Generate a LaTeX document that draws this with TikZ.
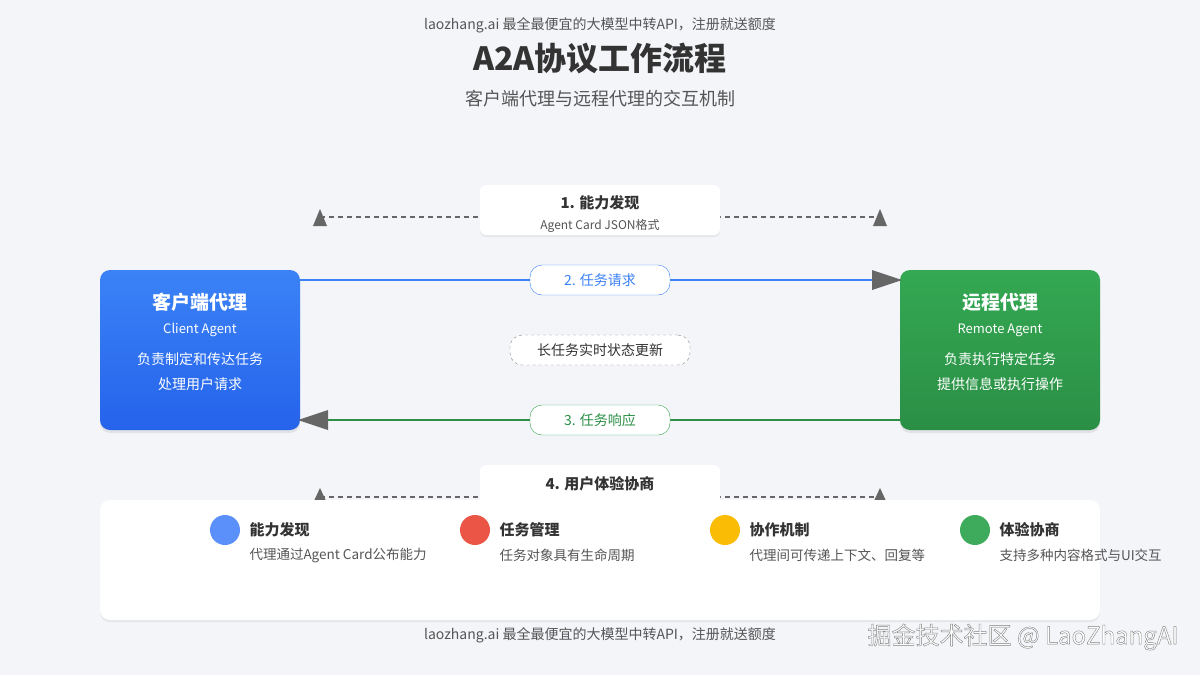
\documentclass[tikz,border=0pt]{standalone}
\usepackage{fontspec}
\setmainfont{Noto Sans CJK SC}
\usetikzlibrary{arrows.meta,shadows}
\definecolor{bg}{HTML}{F3F5F9}
\definecolor{txt}{HTML}{333333}
\definecolor{gtxt}{HTML}{555555}
\definecolor{cblue}{HTML}{3B82F6}
\definecolor{cblueD}{HTML}{2563EB}
\definecolor{cgreen}{HTML}{34A853}
\definecolor{cgreenD}{HTML}{2A8F45}
\definecolor{arr}{HTML}{666666}
\tikzset{
  fs/.style={font=\fontsize{#1}{#1}\selectfont},
  fsb/.style={font=\bfseries\fontsize{#1}{#1}\selectfont},
  card/.style={draw=none,fill=white,rounded corners=6pt,drop shadow={opacity=0.12,shadow xshift=0pt,shadow yshift=-2pt}},
  agent/.style={rounded corners=10pt,drop shadow={opacity=0.15,shadow xshift=0pt,shadow yshift=-3pt}},
  pill/.style={fill=white,rounded corners=12pt,minimum width=140pt,minimum height=30pt,fs=14},
  dot/.style={circle,minimum size=30pt,inner sep=0pt},
}
\begin{document}
\begin{tikzpicture}[x=1pt,y=-1pt]
\fill[bg] (0,0) rectangle (1200,675);
\useasboundingbox (0,0) rectangle (1200,675);
\node[fs=14,text=gtxt] (top) at (600,25) {laozhang.ai 最全最便宜的大模型中转API，注册就送额度};
\node[fsb=32,text=txt] (title) at (600,59) {A2A协议工作流程};
\node[fs=18,text=gtxt] (sub) at (600,99) {客户端代理与远程代理的交互机制};

% agents
\node[agent,top color=cblue,bottom color=cblueD,minimum width=200pt,minimum height=160pt] (client) at (200,350) {};
\node[agent,top color=cgreen,bottom color=cgreenD,minimum width=200pt,minimum height=160pt] (remote) at (1000,350) {};
\node[white,fsb=19] at (200,302) {客户端代理};
\node[white,fs=13] at (200,330) {Client Agent};
\node[white,fs=14] at (200,359) {负责制定和传达任务};
\node[white,fs=14] at (200,384) {处理用户请求};
\node[white,fsb=19] at (1000,302) {远程代理};
\node[white,fs=13] at (1000,330) {Remote Agent};
\node[white,fs=14] at (1000,359) {负责执行特定任务};
\node[white,fs=14] at (1000,384) {提供信息或执行操作};

% dashed top line
\draw[arr,line width=1.2pt,dash pattern=on 5pt off 4pt] (320,217) -- (880,217);
\fill[arr] (313,226) -- (327,226) -- (320,209) -- cycle;
\fill[arr] (873,226) -- (887,226) -- (880,209) -- cycle;
\node[card,minimum width=240pt,minimum height=50pt] (disc) at (600,210) {};
\node[fsb=15,text=txt] at (600,203) {1. 能力发现};
\node[fs=12,text=gtxt] at (600,226) {Agent Card JSON格式};

% request
\draw[cblue,line width=2.5pt] (client.east|-0,280) -- (880,280);
\fill[arr] (872,270) -- (902,280) -- (872,290) -- cycle;
\node[pill,draw=cblue,text=cblue] (req) at (600,280) {2. 任务请求};

\node[pill,draw=gray,dashed,minimum width=180pt,text=txt] (long) at (600,350) {长任务实时状态更新};

% response
\draw[cgreen!85!black,line width=2.5pt] (remote.west|-0,420) -- (320,420);
\fill[arr] (328,410) -- (298,420) -- (328,430) -- cycle;
\node[pill,draw=cgreen,text=cgreen!85!black] (resp) at (600,420) {3. 任务响应};

% negotiation
\draw[arr,line width=1.2pt,dash pattern=on 5pt off 4pt] (320,497) -- (880,497);
\fill[arr] (313,503) -- (327,503) -- (320,488) -- cycle;
\fill[arr] (873,503) -- (887,503) -- (880,488) -- cycle;
\node[card,minimum width=240pt,minimum height=50pt] (neg) at (600,490) {};
\node[fsb=15,text=txt] at (600,484) {4. 用户体验协商};

% bottom panel
\node[card,rounded corners=10pt,minimum width=1000pt,minimum height=120pt] (panel) at (600,560) {};
\foreach \x/\c/\t/\d in {225/5B8FF9/能力发现/代理通过Agent Card公布能力,475/EA5545/任务管理/任务对象具有生命周期,725/FBBC05/协作机制/代理间可传递上下文、回复等,975/3DAA5C/体验协商/支持多种内容格式与UI交互}{
  \definecolor{tmp}{HTML}{\c}
  \node[dot,fill=tmp] at (\x,530) {};
  \node[anchor=west,fsb=15,text=txt] at (\x+21,530) {\t};
  \node[anchor=west,fs=13.5,text=gtxt] at (\x+21,555) {\d};
}
\node[fs=14,text=gtxt] (bot) at (600,635) {laozhang.ai 最全最便宜的大模型中转API，注册就送额度};
\node[fs=24,text=white,anchor=east] (wm) at (1182,637) {\pgfsetstrokecolor{gray}\pgfsetlinewidth{0.4pt}\special{pdf:literal 2 Tr}掘金技术社区 @ LaoZhangAI\special{pdf:literal 0 Tr}};
\end{tikzpicture}
\end{document}
